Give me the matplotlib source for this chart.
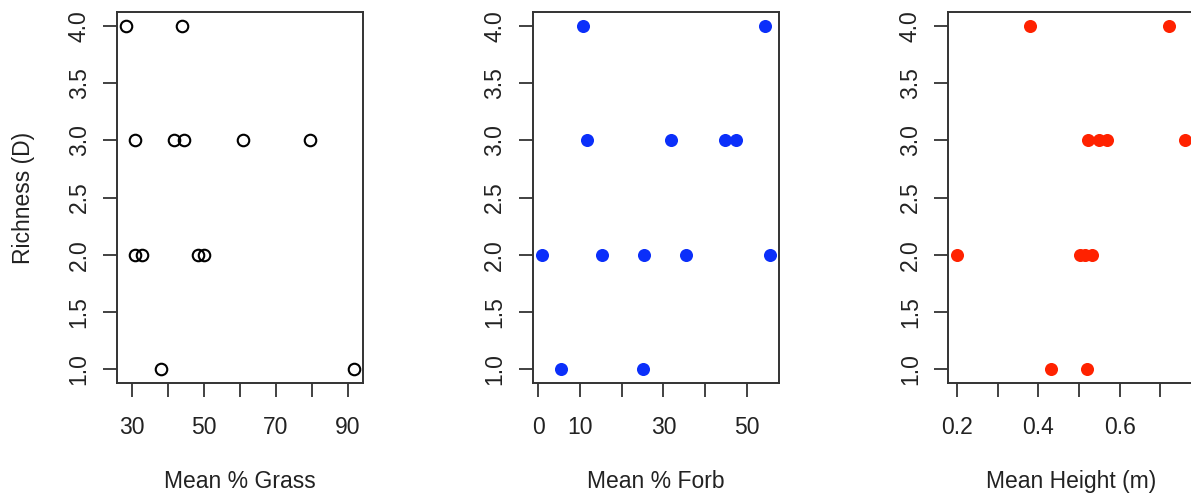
import matplotlib
matplotlib.use('Agg')
import matplotlib.pyplot as plt

plt.rcParams['font.family'] = ['Liberation Sans', 'DejaVu Sans']

# richness vs three habitat measures
grass_x = [28.5, 43.9, 31.0, 41.8, 44.6, 60.9, 79.4, 31.1, 32.8, 48.3, 50.0, 38.3, 91.6]
grass_y = [4, 4, 3, 3, 3, 3, 3, 2, 2, 2, 2, 1, 1]

forb_x = [10.7, 54.3, 11.8, 31.7, 44.7, 47.3, 0.9, 15.4, 25.4, 35.4, 55.4, 5.4, 25.0]
forb_y = [4, 4, 3, 3, 3, 3, 2, 2, 2, 2, 2, 1, 1]

height_x = [0.380, 0.720, 0.523, 0.549, 0.568, 0.761, 0.201, 0.502, 0.515, 0.531, 0.430, 0.520]
height_y = [4, 4, 3, 3, 3, 3, 2, 2, 2, 2, 1, 1]

grass_ticks = [30, 40, 50, 60, 70, 80, 90]
grass_labels = ['30', '', '50', '', '70', '', '90']
forb_ticks = [0, 10, 20, 30, 40, 50]
forb_labels = ['0', '10', '', '30', '', '50']
height_ticks = [0.2, 0.3, 0.4, 0.5, 0.6, 0.7]
height_labels = ['0.2', '', '0.4', '', '0.6', '']
y_ticks = [1.0, 1.5, 2.0, 2.5, 3.0, 3.5, 4.0]

W, H = 1191, 495
fig = plt.figure(figsize=(W / 100, H / 100), dpi=100)

txt = '#222222'
frame = '#333333'
fs = 16.5


def make_axes(left_px, xs, ys, ticks, labels, xlabel, style):
    ax = fig.add_axes([left_px / W, (H - 383) / H, 246 / W, 371 / H])
    if style == 'open':
        ax.plot(xs, ys, 'o', ms=8.3, mfc='none', mec='black', mew=1.5)
    else:
        ax.plot(xs, ys, 'o', ms=9.4, mfc=style, mec='none')
    ax.margins(x=0.04, y=0.04)
    ax.set_xticks(ticks)
    ax.set_xticklabels(labels)
    ax.set_yticks(y_ticks)
    ax.set_yticklabels(['%.1f' % v for v in y_ticks], rotation=90, va='center')
    for s in ax.spines.values():
        s.set_linewidth(1.4)
        s.set_color(frame)
    ax.tick_params(length=10, width=1.3, color=frame, labelsize=fs,
                   labelcolor=txt)
    ax.tick_params(axis='x', pad=14)
    ax.tick_params(axis='y', pad=9)
    ax.text(0.5, -0.265, xlabel, transform=ax.transAxes, ha='center',
            va='center', fontsize=fs, color=txt)
    return ax


ax1 = make_axes(117, grass_x, grass_y, grass_ticks, grass_labels,
                'Mean % Grass', 'open')
ax1.text(-0.382, 0.5, 'Richness (D)', transform=ax1.transAxes, rotation=90,
         ha='center', va='center', fontsize=fs, color=txt)
ax2 = make_axes(532.7, forb_x, forb_y, forb_ticks, forb_labels,
                'Mean % Forb', '#0b2ffa')
ax3 = make_axes(948.3, height_x, height_y, height_ticks, height_labels,
                'Mean Height (m)', '#ff2200')

fig.savefig('out.png', dpi=100)
